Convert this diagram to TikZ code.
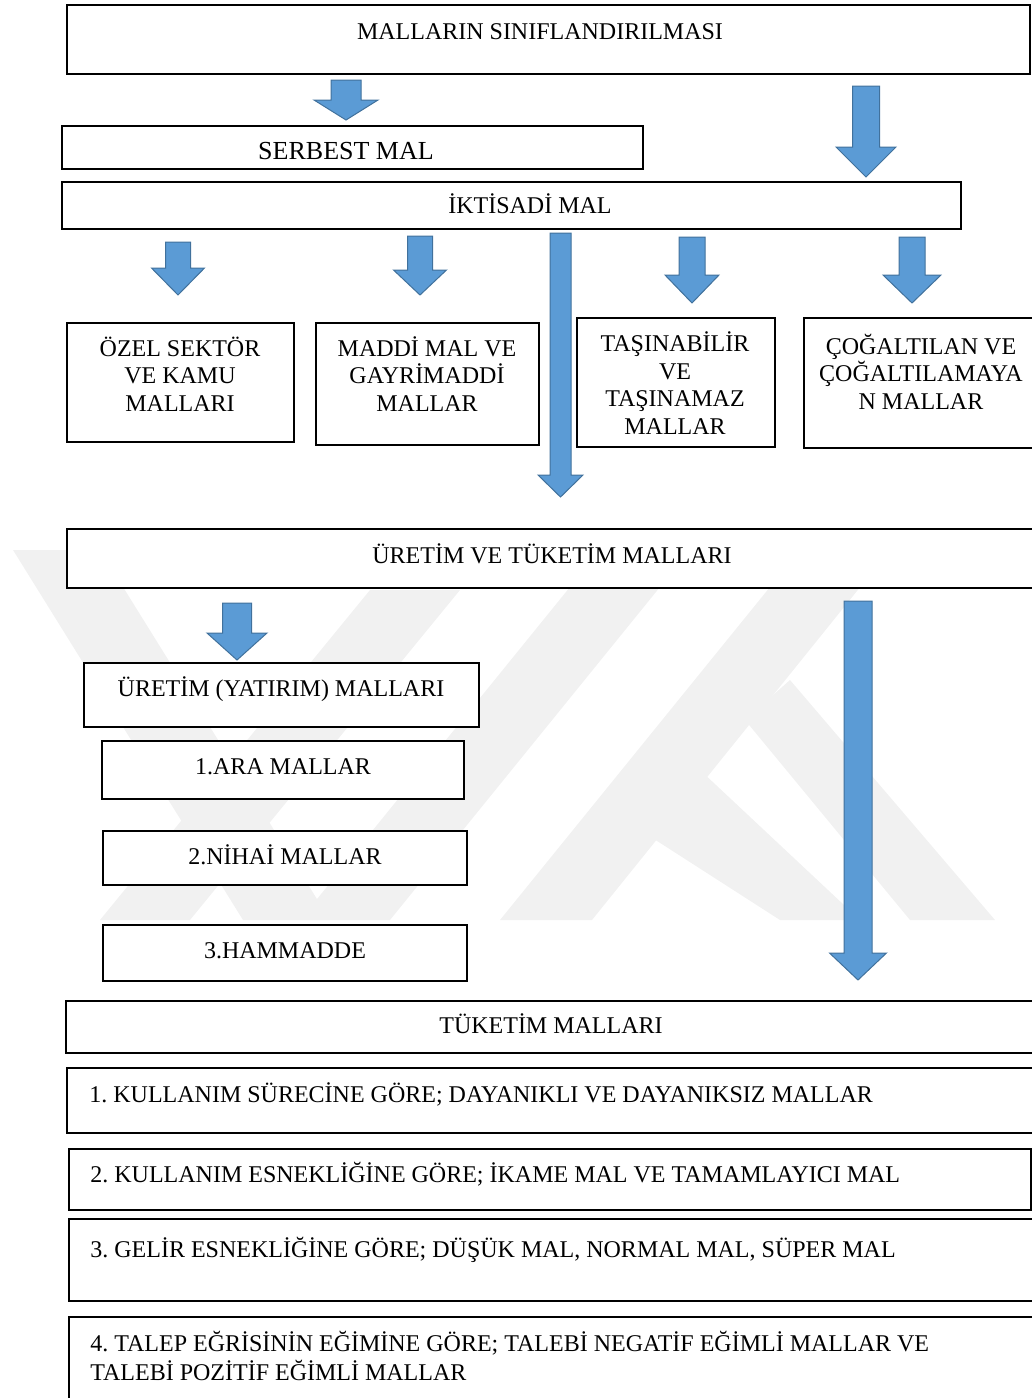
\documentclass[tikz,border=0pt]{standalone}
\usepackage{fontspec}
\setmainfont{Liberation Serif}
\frenchspacing

\definecolor{arrowfill}{HTML}{5B9BD5}
\definecolor{arrowedge}{HTML}{41719C}
\definecolor{markgray}{HTML}{F1F1F1}

\tikzset{
  box/.style={draw=black, line width=1.2pt, fill=white, inner sep=0pt},
  lbl/.style={font=\fontsize{12}{13.7}\selectfont, inner sep=0pt, align=center},
  lbll/.style={font=\fontsize{12}{14.5}\selectfont, inner sep=0pt, align=left},
  blockarrow/.style={fill=arrowfill, draw=arrowedge, line width=0.5pt, line join=miter},
}

% rectangle node given by its corners (pixel-like units, y grows downward)
\newcommand\malbox[5]{%
  \node[box, minimum width={(#4-#2)*0.5pt}, minimum height={(#5-#3)*0.5pt}]
    (#1) at ({(#2+#4)/2},{(#3+#5)/2}) {};}

% downward block arrow: centre x, half shaft width, half head width,
% shaft top, head base, tip
\newcommand\malarrow[6]{%
  \filldraw[blockarrow] ({#1-#2},#4) -- ({#1+#2},#4) -- ({#1+#2},#5) --
    ({#1+#3},#5) -- (#1,#6) -- ({#1-#3},#5) -- ({#1-#2},#5) -- cycle;}

\begin{document}
\begin{tikzpicture}[x=0.5pt,y=-0.5pt]
\useasboundingbox (0,0) rectangle (1032,1398);

% faint background emblem
\begin{scope}[fill=markgray]
  \fill (13,550) -- (100,550) -- (330,920) -- (243,920) -- cycle;
  \fill (100,920) -- (190,920) -- (460,590) -- (370,590) -- cycle;
  \fill (300,920) -- (390,920) -- (690,550) -- (600,550) -- cycle;
  \fill (500,920) -- (592,920) -- (890,550) -- (800,550) -- cycle;
  \fill (640,830) -- (700,770) -- (860,920) -- (780,920) -- cycle;
  \fill (745,720) -- (790,680) -- (995,920) -- (910,920) -- cycle;
\end{scope}

% boxes
\malbox{title}{67}{5}{1030}{74}
\malbox{serbest}{62}{126}{643}{169}
\malbox{iktisadi}{62}{182}{961}{229}
\malbox{ozel}{67}{323}{294}{442}
\malbox{maddi}{316}{323}{539}{445}
\malbox{tasinabilir}{577}{318}{775}{447}
\malbox{cogaltilan}{804}{318}{1045}{448}
\malbox{uretimtuketim}{67}{529}{1045}{588}
\malbox{yatirim}{84}{663}{479}{727}
\malbox{ara}{102}{741}{464}{799}
\malbox{nihai}{103}{831}{467}{885}
\malbox{hammadde}{103}{925}{467}{981}
\malbox{tuketim}{66}{1001}{1045}{1053}
\malbox{kullanim}{67}{1068}{1045}{1133}
\malbox{esneklik}{69}{1149}{1031}{1210}
\malbox{gelir}{69}{1219}{1045}{1301}
\malbox{talep}{69}{1317}{1045}{1420}

% labels (multi-line labels are anchored at the baseline of their last line)
\node[lbl, anchor=base] (title-t) at (540,39) {MALLARIN SINIFLANDIRILMASI};
\node[lbl, anchor=base, font=\fontsize{13}{15}\selectfont] (serbest-t) at (346,159) {SERBEST MAL};
\node[lbl, anchor=base] (iktisadi-t) at (530,213) {İKTİSADİ MAL};
\node[lbl, anchor=base] (ozel-t) at (180,411) {ÖZEL SEKTÖR\\VE KAMU\\MALLARI};
\node[lbl, anchor=base] (maddi-t) at (427,411) {MADDİ MAL VE\\GAYRİMADDİ\\MALLAR};
\node[lbl, anchor=base] (tasinabilir-t) at (675,434) {TAŞINABİLİR\\VE\\TAŞINAMAZ\\MALLAR};
\node[lbl, anchor=base] (cogaltilan-t) at (921,409) {ÇOĞALTILAN VE\\ÇOĞALTILAMAYA\\N MALLAR};
\node[lbl, anchor=base] (uretimtuketim-t) at (552,563) {ÜRETİM VE TÜKETİM MALLARI};
\node[lbl, anchor=base] (yatirim-t) at (281,696) {ÜRETİM (YATIRIM) MALLARI};
\node[lbl, anchor=base] (ara-t) at (283,774) {1.ARA MALLAR};
\node[lbl, anchor=base] (nihai-t) at (285,864) {2.NİHAİ MALLAR};
\node[lbl, anchor=base] (hammadde-t) at (285,958) {3.HAMMADDE};
\node[lbl, anchor=base] (tuketim-t) at (551,1033) {TÜKETİM MALLARI};
\node[lbl, anchor=base west] (kullanim-t) at (89,1102) {1. KULLANIM SÜRECİNE GÖRE; DAYANIKLI VE DAYANIKSIZ MALLAR};
\node[lbl, anchor=base west] (esneklik-t) at (90,1182) {2. KULLANIM ESNEKLİĞİNE GÖRE; İKAME MAL VE TAMAMLAYICI MAL};
\node[lbl, anchor=base west] (gelir-t) at (90,1257) {3. GELİR ESNEKLİĞİNE GÖRE; DÜŞÜK MAL, NORMAL MAL, SÜPER MAL};
\node[lbll, anchor=base west] (talep-t) at (90,1380) {4. TALEP EĞRİSİNİN EĞİMİNE GÖRE; TALEBİ NEGATİF EĞİMLİ MALLAR VE\\TALEBİ POZİTİF EĞİMLİ MALLAR};

% block arrows
\malarrow{346}{15}{32}{80}{100}{120}
\malarrow{866}{13.5}{30}{86}{147}{177}
\malarrow{178}{12.5}{26.5}{242}{268}{295}
\malarrow{420}{12.5}{26.5}{236}{270}{295}
\malarrow{560.5}{10.5}{22.5}{233}{475}{497}
\malarrow{692}{13}{27}{237}{275}{303}
\malarrow{912}{13}{29}{237}{275}{303}
\malarrow{237}{14.5}{30}{603}{633}{660}
\malarrow{858}{14}{28.5}{601}{953}{980}
\end{tikzpicture}
\end{document}
